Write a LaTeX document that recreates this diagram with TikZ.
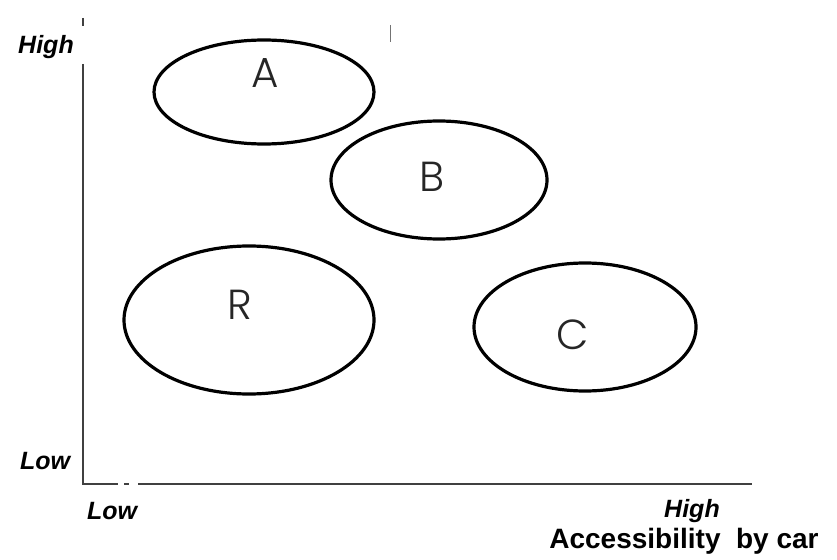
\documentclass[tikz,border=0pt]{standalone}
\usepackage{fontspec}
\setmainfont{Liberation Sans}
\newfontfamily\gfont{Poppins Light}
\begin{document}
\begin{tikzpicture}[x=1pt,y=-1pt,
  zone/.style={draw=black,line width=3.2pt},
  zlabel/.style={font=\gfont\fontsize{42}{42}\selectfont,text=black!85},
  axislab/.style={font=\bfseries\itshape\fontsize{25}{25}\selectfont,inner sep=0pt},
  axisline/.style={draw=black!75,line width=2pt}]
\useasboundingbox (0,0) rectangle (837,559);
% axes
\coordinate (o) at (83,484);
\coordinate (ytop) at (83,18);
\coordinate (yb) at (83,26);
\coordinate (yc) at (83,64);
\coordinate (xa) at (118,484);
\coordinate (xb) at (124,484);
\coordinate (xc) at (129,484);
\coordinate (xd) at (138,484);
\coordinate (xend) at (752,484);
\draw[axisline] (ytop) -- (yb);
\draw[axisline] (yc) -- (o) -- (xa);
\draw[axisline] (xb) -- (xc);
\draw[axisline] (xd) -- (xend);
\coordinate (m1) at (390,25);
\coordinate (m2) at (390,42);
\draw[black!55,line width=0.8pt] (m1) -- (m2);
% zones
\draw[zone] (264,92) ellipse [x radius=110, y radius=52];
\draw[zone] (439,180) ellipse [x radius=108, y radius=59];
\draw[zone] (249,320) ellipse [x radius=125, y radius=74];
\draw[zone] (585,327) ellipse [x radius=111, y radius=64];
\node[zlabel] (A) at (265,73) {A};
\node[zlabel] (B) at (432,177) {B};
\node[zlabel] (R) at (240,305) {R};
\node[zlabel] (C) at (573,335) {C};
% axis labels
\node[axislab] (yh) at (46,47) {High};
\node[axislab] (yl) at (45,461) {Low};
\node[axislab] (xl) at (112,511) {Low};
\node[axislab] (xh) at (692,511) {High};
\node[font=\bfseries\fontsize{28}{28}\selectfont,inner sep=0pt] (xt) at (684,541) {Accessibility\ \ by car};
\end{tikzpicture}
\end{document}
